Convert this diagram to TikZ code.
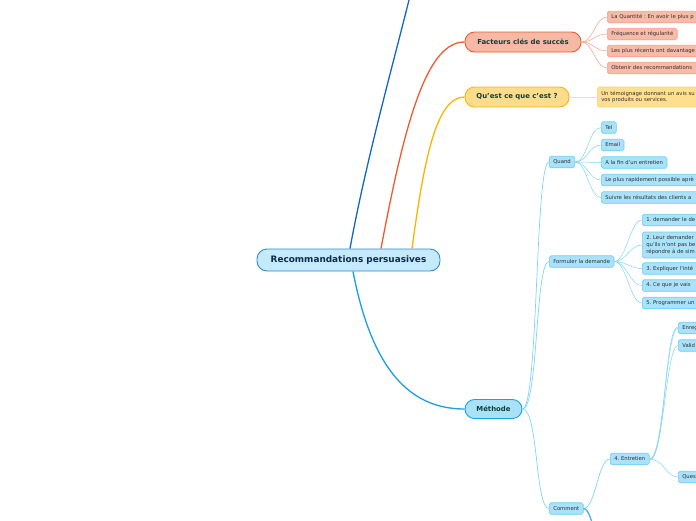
\documentclass[tikz,border=0pt]{standalone}
\usepackage{fontspec}
\setmainfont{DejaVu Sans}
\frenchspacing
\definecolor{rootfill}{HTML}{C4EAFB}
\definecolor{rootdraw}{HTML}{2E8CCF}
\definecolor{roottext}{HTML}{102A4C}
\definecolor{topictext}{HTML}{123F36}
\definecolor{facfill}{HTML}{F8B8A6}
\definecolor{facdraw}{HTML}{EE5A2E}
\definecolor{facline}{HTML}{F05A2C}
\definecolor{facleaf}{HTML}{F9BBA9}
\definecolor{facleafdraw}{HTML}{F5A08A}
\definecolor{quafill}{HTML}{FDDC8C}
\definecolor{quadraw}{HTML}{F8B414}
\definecolor{qualine}{HTML}{FBB500}
\definecolor{qualeaf}{HTML}{FEE08F}
\definecolor{metfill}{HTML}{A8E1F8}
\definecolor{metdraw}{HTML}{1CA2E2}
\definecolor{metline}{HTML}{1AA0E0}
\definecolor{bluetop}{HTML}{1466C6}
\definecolor{subfill}{HTML}{A9E2FA}
\definecolor{subdraw}{HTML}{6CCEF4}
\definecolor{subline}{HTML}{7FD4F6}
\definecolor{leaftext}{HTML}{2E2E2E}
\tikzset{
  rootbox/.style={draw=rootdraw, fill=rootfill, line width=0.9pt, rounded corners=10pt,
    minimum width=183pt, minimum height=22pt, inner sep=0pt, text=roottext,
    font=\fontsize{8.9}{10}\selectfont\bfseries},
  topicbox/.style={line width=0.9pt, rounded corners=9.5pt, minimum height=20pt, inner sep=0pt,
    text=topictext, font=\fontsize{6.9}{8}\selectfont\bfseries},
  leafbase/.style={line width=0.6pt, rounded corners=1.8pt, anchor=west, inner xsep=4pt, inner ysep=0pt,
    minimum height=11.5pt, text=leaftext, align=left, font=\fontsize{5.3}{6.6}\selectfont},
  facleafbox/.style={leafbase, draw=facleafdraw, fill=facleaf},
  qualeafbox/.style={leafbase, draw=quadraw!60, fill=qualeaf},
  subbox/.style={leafbase, draw=subdraw, fill=subfill},
  rootlink/.style={line width=1.3pt},
  toplink/.style={line width=0.7pt},
  leaflink/.style={line width=0.5pt},
}
\begin{document}
\begin{tikzpicture}[x=1pt,y=-1pt]
\useasboundingbox (0,0) rectangle (696,520);
\clip (0,0) rectangle (696,520);

% root and main topics
\node[rootbox] (root) at (348.5,260) {Recommandations persuasives};
\node[topicbox, draw=facdraw, fill=facfill, minimum width=116pt] (fac) at (523,42) {Facteurs clés de succès};
\node[topicbox, draw=quadraw, fill=quafill, minimum width=104pt] (qua) at (517,97) {Qu'est ce que c'est ?};
\node[topicbox, draw=metdraw, fill=metfill, minimum width=57pt, minimum height=19pt] (met) at (493.5,409) {Méthode};
\coordinate (topoff) at (415,-25);

% root connectors
\draw[rootlink, bluetop] ([xshift=1.5pt]root.north) .. controls (368,150) and (400,40) .. (topoff);
\draw[rootlink, facline] ([xshift=32.5pt]root.north) .. controls (406,115) and (428,42) .. (fac.west);
\draw[rootlink, qualine] ([xshift=63.5pt]root.north) .. controls (424,160) and (436,97) .. (qua.west);
\draw[rootlink, metline] ([xshift=4.5pt]root.south) .. controls (372,370) and (410,409) .. (met.west);

% Facteurs cles de succes
\node[facleafbox, text width=110pt] (f1) at (607,17) {La Quantité : En avoir le plus p};
\node[facleafbox] (f2) at (607,34) {Fréquence et régularité};
\node[facleafbox, text width=110pt] (f3) at (607,51) {Les plus récents ont davantage};
\node[facleafbox, text width=110pt] (f4) at (607,68) {Obtenir des recommandations};
\foreach \n in {f1,f2,f3,f4}
  \draw[leaflink, facleafdraw] (fac.east) .. controls +(12,0) and +(-12,0) .. (\n.west);

% Qu'est ce que c'est
\node[qualeafbox, text width=110pt, minimum height=20pt] (q1) at (597,97) {Un témoignage donnant un avis su\\vos produits ou services.};
\draw[line width=0.9pt, qualine!45] (qua.east) -- (q1.west);

% Methode
\node[subbox] (quand) at (549,162) {Quand};
\node[subbox] (form) at (549,261.5) {Formuler la demande};
\node[subbox] (comm) at (549,508.5) {Comment};
\foreach \n in {quand,form,comm}
  \draw[toplink, subline] (met.east) .. controls +(16,0) and +(-14,0) .. (\n.west);

% Quand
\node[subbox] (w1) at (601,127.5) {Tel};
\node[subbox] (w2) at (601,145) {Email};
\node[subbox] (w3) at (601,162.5) {A la fin d'un entretien};
\node[subbox, text width=110pt] (w4) at (601,180) {Le plus rapidement possible aprè};
\node[subbox, text width=110pt] (w5) at (601,197.5) {Suivre les résultats des clients a};
\foreach \n in {w1,w2,w3,w4,w5}
  \draw[leaflink, subline] (quand.east) .. controls +(12,0) and +(-12,0) .. (\n.west);

% Formuler la demande
\node[subbox, text width=70pt] (d1) at (642,220) {1. demander le de};
\node[subbox, text width=70pt, minimum height=26pt] (d2) at (642,245) {2. Leur demander\\qu'ils n'ont pas be\\répondre à de sim};
\node[subbox, text width=70pt] (d3) at (642,268.5) {3. Expliquer l'inté};
\node[subbox, text width=70pt] (d4) at (642,285.5) {4. Ce que je vais};
\node[subbox, text width=70pt] (d5) at (642,303) {5. Programmer un};
\foreach \n in {d1,d2,d3,d4,d5}
  \draw[leaflink, subline] (form.east) .. controls +(12,0) and +(-12,0) .. (\n.west);

% Comment
\node[subbox] (ent) at (610,459) {4. Entretien};
\coordinate (comoffa) at (594,545);
\coordinate (comoffb) at (597,560);
\draw[toplink, subline] (comm.east) .. controls +(12,0) and +(-12,0) .. (ent.west);
\draw[line width=0.9pt, metline!80] (comm.east) .. controls +(6,0) and +(0,-20) .. (comoffa);
\draw[line width=0.9pt, metline!80] (comm.east) .. controls +(6,0) and +(0,-25) .. (comoffb);

% 4. Entretien
\node[subbox, text width=40pt] (e1) at (678,328) {Enreg};
\node[subbox, text width=40pt] (e2) at (678,345.5) {Valid};
\node[subbox, text width=40pt] (e3) at (678,477) {Ques};
\foreach \n in {e1,e2,e3}
  \draw[leaflink, subline] (ent.east) .. controls +(14,0) and +(-12,0) .. (\n.west);
\draw[leaflink, subline] ([yshift=-1pt]ent.east) .. controls +(16,0) and +(-14,0) .. ([yshift=1pt]e1.west);
\end{tikzpicture}
\end{document}
